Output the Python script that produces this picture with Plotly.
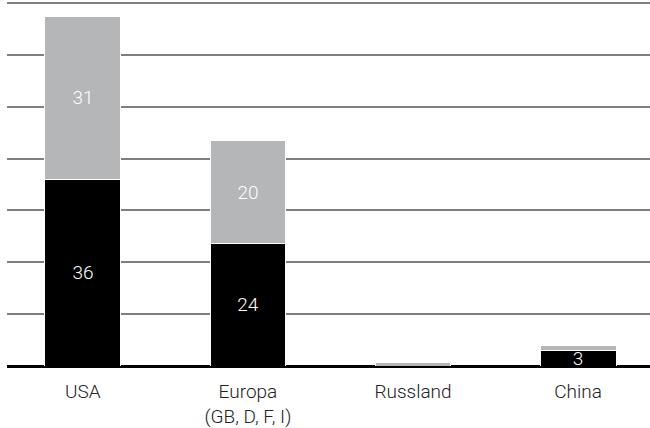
import plotly.graph_objects as go

categories = ["USA", "Europa<br>(GB, D, F, I)", "Russland", "China"]
black_vals = [36, 23.6, 0, 3]
gray_vals = [31.4, 19.8, 0.7, 1.0]
black_labels = ["36", "24", "", "3"]
gray_labels = ["31", "20", "", ""]

font_fam = "Roboto"

fig = go.Figure()
fig.add_trace(go.Bar(
    x=categories, y=black_vals, marker=dict(color="#000000", line=dict(color="white", width=1)),
    text=black_labels, textposition="inside", insidetextanchor="middle", textangle=0,
    constraintext="none",
    textfont=dict(color="white", size=19, family=font_fam, weight=300),
    hoverinfo="skip",
))
fig.add_trace(go.Bar(
    x=categories, y=gray_vals, marker=dict(color="#b5b6b8", line=dict(color="white", width=1)),
    text=gray_labels, textposition="inside", insidetextanchor="middle", textangle=0,
    constraintext="none",
    textfont=dict(color="white", size=19, family=font_fam, weight=300),
    hoverinfo="skip",
))

fig.update_layout(
    barmode="stack",
    bargap=0.54,
    width=650, height=428,
    margin=dict(l=7, r=0, t=2, b=62),
    plot_bgcolor="white", paper_bgcolor="white",
    showlegend=False,
    font=dict(family=font_fam, size=19, color="#222222", weight=300),
)
fig.update_xaxes(
    range=[-0.46, 3.436], showgrid=False, ticks="", showline=False,
    tickfont=dict(size=19, family=font_fam, color="#222222", weight=300),
    ticklabelstandoff=12,
    fixedrange=True,
)
fig.update_yaxes(
    range=[0, 70.2], dtick=10, showgrid=True, gridcolor="#7f7f7f", gridwidth=1.5,
    showticklabels=False, zeroline=True, zerolinecolor="#000000", zerolinewidth=2.5,
    showline=False, fixedrange=True,
)

fig.write_html("out.html")
